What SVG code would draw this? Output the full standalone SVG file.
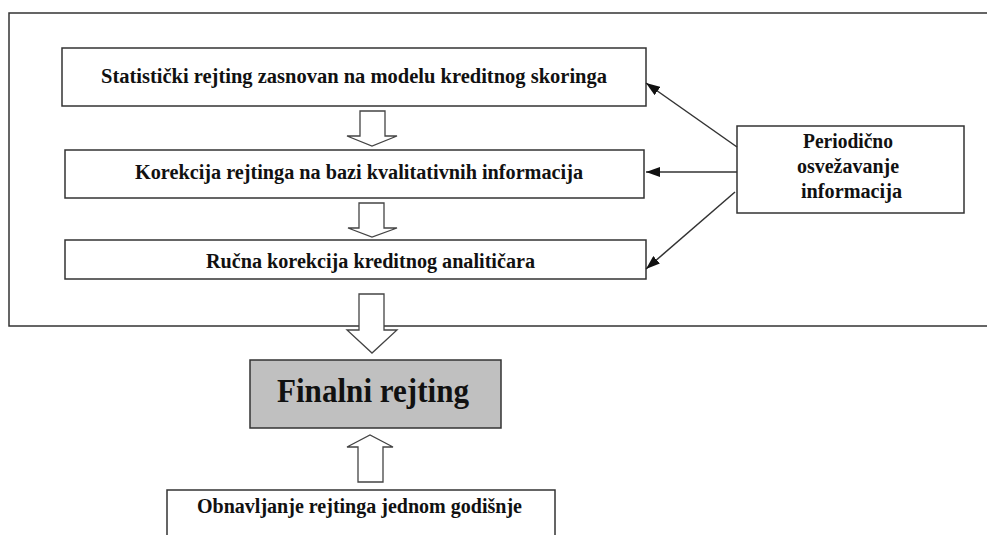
<svg xmlns="http://www.w3.org/2000/svg" width="987" height="535" viewBox="0 0 987 535">
<style>
.box{fill:#fff;stroke:#333;stroke-width:1.5}
.frame{fill:none;stroke:#333;stroke-width:1.5}
.gray{fill:#c0c0c0;stroke:#333;stroke-width:1.5}
.hollow{fill:#fff;stroke:#444;stroke-width:1.3;stroke-linejoin:miter}
.t{font-family:"Liberation Serif","Times New Roman",serif;font-weight:bold;font-size:20px;fill:#111}
.big{font-size:33px}
.con{stroke:#333;stroke-width:1.5;fill:none;marker-end:url(#ah)}
</style>
<defs>
<marker id="ah" viewBox="0 0 14 10" refX="14" refY="5" markerWidth="14" markerHeight="10" markerUnits="userSpaceOnUse" orient="auto">
<path d="M0,0 L14,5 L0,10 z" fill="#111"/>
</marker>
</defs>
<rect width="987" height="535" fill="#fff"/>
<rect class="frame" x="9" y="13" width="990" height="313"/>
<g id="n1"><rect class="box" x="62" y="48" width="584" height="58"/><text class="t" x="101" y="83" textLength="506" lengthAdjust="spacingAndGlyphs">Statistički rejting zasnovan na modelu kreditnog skoringa</text></g>
<g id="n2"><rect class="box" x="65" y="150" width="579" height="48"/><text class="t" x="135" y="179" textLength="448" lengthAdjust="spacingAndGlyphs">Korekcija rejtinga na bazi kvalitativnih informacija</text></g>
<g id="n3"><rect class="box" x="65" y="240" width="581" height="39"/><text class="t" x="206" y="268" textLength="329" lengthAdjust="spacingAndGlyphs">Ručna korekcija kreditnog analitičara</text></g>
<g id="n4"><rect class="box" x="737" y="126" width="227" height="87"/>
<text class="t" x="803" y="148" textLength="90" lengthAdjust="spacingAndGlyphs">Periodično</text>
<text class="t" x="797" y="173" textLength="102" lengthAdjust="spacingAndGlyphs">osvežavanje</text>
<text class="t" x="801" y="198" textLength="101" lengthAdjust="spacingAndGlyphs">informacija</text></g>
<g id="n5"><rect class="gray" x="250" y="360" width="251" height="68"/><text class="t big" x="277" y="402" textLength="192" lengthAdjust="spacingAndGlyphs">Finalni rejting</text></g>
<g id="n6"><rect class="box" x="167" y="490" width="388" height="60"/><text class="t" x="197" y="513" textLength="325" lengthAdjust="spacingAndGlyphs">Obnavljanje rejtinga jednom godišnje</text></g>
<g id="connectors">
<path class="hollow" d="M360,111 H385 V136 H397 L372,146 L347,136 H360 Z"/>
<path class="hollow" d="M359,203 H384 V228 H397 L372,237 L348,228 H359 Z"/>
<path class="hollow" d="M359,294 H384 V330 H397 L372,353 L347,330 H359 Z"/>
<path class="hollow" d="M358,482 V447 H347 L370,435 L393,447 H383 V482 Z"/>
<line class="con" x1="737" y1="147" x2="646" y2="83"/>
<line class="con" x1="737" y1="172" x2="646" y2="172"/>
<line class="con" x1="735" y1="192" x2="646" y2="269"/>
</g>
</svg>
